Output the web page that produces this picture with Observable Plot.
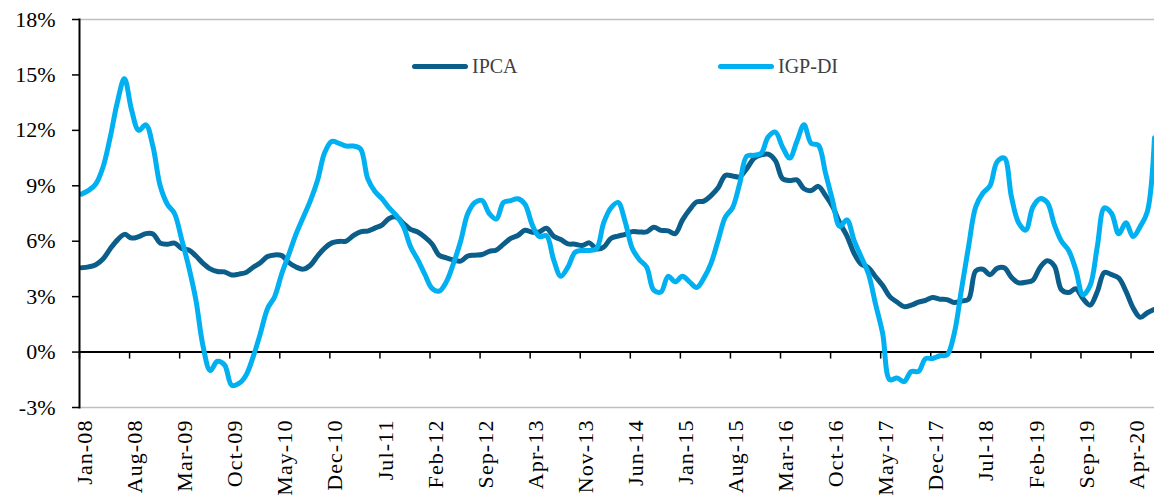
<!DOCTYPE html>
<html><head><meta charset="utf-8">
<script src="https://cdn.jsdelivr.net/npm/d3@7"></script>
<script src="https://cdn.jsdelivr.net/npm/@observablehq/plot@0.6"></script>
<style>
body{margin:0;background:#fff;}
#wrap{position:relative;width:1154px;height:500px;font-family:"Liberation Serif",serif;}
.leg{position:absolute;display:flex;align-items:center;font-size:20px;color:#404040;height:24px;}
.sw{width:56px;height:5px;border-radius:3px;margin-right:4px;}
svg [aria-label="x-axis tick label"] text{letter-spacing:1.1px;}
</style></head>
<body><div id="wrap"></div>
<script>
// Monthly 12-month inflation, Jan-08 .. Jul-20 (%)
const ipca = [
4.56,4.61,4.73,5.04,5.58,6.06,6.37,6.17,6.25,6.41,6.39,5.90,
5.84,5.90,5.61,5.53,5.20,4.80,4.50,4.36,4.34,4.17,4.22,4.31,
4.59,4.83,5.17,5.26,5.22,4.84,4.60,4.49,4.70,5.20,5.63,5.91,
5.99,6.01,6.30,6.51,6.55,6.71,6.87,7.23,7.31,6.97,6.64,6.50,
6.22,5.85,5.24,5.10,4.99,4.92,5.20,5.24,5.28,5.45,5.53,5.84,
6.15,6.31,6.59,6.49,6.50,6.70,6.27,6.09,5.86,5.84,5.77,5.91,
5.59,5.68,6.15,6.28,6.37,6.52,6.50,6.51,6.75,6.59,6.56,6.41,
7.14,7.70,8.13,8.17,8.47,8.89,9.56,9.53,9.49,9.93,10.48,10.67,
10.71,10.36,9.39,9.28,9.32,8.84,8.74,8.97,8.48,7.87,6.99,6.29,
5.35,4.76,4.57,4.08,3.60,3.00,2.71,2.46,2.54,2.70,2.80,2.95,
2.86,2.84,2.68,2.76,2.86,4.39,4.48,4.19,4.53,4.56,4.05,3.75,
3.78,3.89,4.58,4.94,4.66,3.37,3.22,3.43,2.89,2.54,3.27,4.31,
4.19,4.01,3.30,2.40,1.88,2.13,2.31
];
const igpdi = [
8.55,8.75,9.1,10.0,11.6,13.5,14.8,13.1,12.0,12.3,11.1,9.0,
8.0,7.5,6.1,4.6,2.8,0.3,-1.0,-0.5,-0.7,-1.8,-1.7,-1.25,
-0.25,1.0,2.35,3.0,4.25,5.3,6.4,7.3,8.2,9.3,10.8,11.4,
11.3,11.15,11.15,11.0,9.4,8.7,8.3,7.8,7.4,6.8,5.7,5.0,
4.2,3.45,3.3,3.8,4.8,6.0,7.5,8.1,8.2,7.5,7.2,8.1,
8.2,8.3,8.0,6.9,6.25,6.3,5.0,4.1,4.6,5.4,5.5,5.5,
5.6,7.0,7.8,8.1,7.05,5.6,5.0,4.6,3.35,3.25,4.1,3.8,
4.1,3.8,3.5,4.0,4.8,6.05,7.3,7.8,9.1,10.6,10.65,10.75,
11.65,11.9,11.1,10.5,11.4,12.3,11.3,11.2,9.7,8.2,6.8,7.15,
6.05,5.15,4.25,2.6,1.0,-1.5,-1.4,-1.6,-1.05,-1.05,-0.35,-0.35,
-0.2,-0.15,1.0,3.35,5.7,7.85,8.6,9.0,10.3,10.5,8.4,7.0,
6.6,7.85,8.3,8.1,6.9,6.0,5.5,4.45,3.1,3.6,5.7,7.8,
7.5,6.4,7.0,6.25,6.8,7.6,11.6
];
const tickLabels = ["Jan-08","Aug-08","Mar-09","Oct-09","May-10","Dec-10","Jul-11","Feb-12","Sep-12","Apr-13","Nov-13","Jun-14","Jan-15","Aug-15","Mar-16","Oct-16","May-17","Dec-17","Jul-18","Feb-19","Sep-19","Apr-20"];
const yTicks = [-3,0,3,6,9,12,15,18];
const seriesNames = ["IPCA","IGP-DI"];
const seriesColors = ["#0b5e8a","#00b0f0"];

const data = [];
ipca.forEach((v,i)=>data.push({i, v, s:"IPCA"}));
igpdi.forEach((v,i)=>data.push({i, v, s:"IGP-DI"}));

const W=1154, H=500, mt=19, mb=93, ml=79, mr=0;
const yDomain=[-3,18];
const innerH = H-mt-mb;
const yZero = mt + innerH*(yDomain[1]-0)/(yDomain[1]-yDomain[0]);
const dyZero = -((H-mb) - yZero);
const step = 7;
const tickPos = tickLabels.map((d,k)=>step*k-0.28);
const labelPos = tickLabels.map((d,k)=>step*k+0.5);
const labelMap = new Map(labelPos.map((p,k)=>[p,tickLabels[k]]));

const chart = Plot.plot({
  width:W, height:H, marginTop:mt, marginBottom:mb, marginLeft:ml, marginRight:mr,
  style:{fontFamily:"'Liberation Serif', serif", fontSize:"22px", color:"#000", background:"#fff", overflow:"hidden"},
  x:{type:"linear", domain:[-0.28, ipca.length-1]},
  y:{domain:yDomain},
  color:{domain:seriesNames, range:seriesColors},
  marks:[
    Plot.frame({anchor:"top", stroke:"#bfbfbf", strokeWidth:1.5}),
    Plot.frame({anchor:"bottom", stroke:"#bfbfbf", strokeWidth:1.5}),
    Plot.axisY({ticks:yTicks, tickFormat:d=>d+"%", tickSize:7, tickPadding:17, stroke:"#000", strokeWidth:1.5, fill:"#000", label:null}),
    Plot.axisX({ticks:tickPos, tickSize:7, text:null, dy:dyZero, stroke:"#000", strokeWidth:1.5, label:null}),
    Plot.axisX({ticks:labelPos, tickFormat:d=>labelMap.get(d), tickSize:0, tickPadding:12, tickRotate:-90, fill:"#000", label:null}),
    Plot.ruleY([0], {stroke:"#000", strokeWidth:2}),
    Plot.lineY(data, {x:"i", y:"v", stroke:"s", z:"s", strokeWidth:5, curve:"catmull-rom", strokeLinecap:"round", strokeLinejoin:"round"}),
    Plot.frame({anchor:"left", stroke:"#000", strokeWidth:2})
  ]
});
const wrap = document.getElementById("wrap");
wrap.appendChild(chart);

// legend inside the plot area
const legendX = [412, 718];
seriesNames.forEach((name,k)=>{
  const d = document.createElement("div");
  d.className="leg";
  d.style.left = legendX[k]+"px";
  d.style.top = "54px";
  const sw = document.createElement("div");
  sw.className="sw"; sw.style.background = seriesColors[k];
  const t = document.createElement("span"); t.textContent = name;
  d.appendChild(sw); d.appendChild(t);
  wrap.appendChild(d);
});
</script>
</body></html>
